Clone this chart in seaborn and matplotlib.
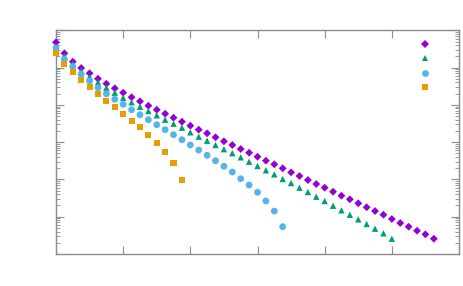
import matplotlib
matplotlib.use("Agg")
import matplotlib.pyplot as plt
from matplotlib.lines import Line2D
from matplotlib.ticker import LogLocator, MultipleLocator, NullFormatter, NullLocator
import numpy as np
import pandas as pd
import seaborn as sns

# ---- data ----
purple_vals = [0.477, 0.2415, 0.1438, 0.0975, 0.0703, 0.0503, 0.0370, 0.0278, 0.0212, 0.0160,
               0.01247, 0.0095, 0.00741, 0.00579, 0.00453, 0.00353, 0.00276, 0.00216, 0.001726, 0.001349,
               0.001054, 0.000838, 0.000655, 0.000521, 0.000407, 0.000318, 0.000255, 0.000199, 0.000155, 0.0001236,
               9.64e-5, 7.54e-5, 6.0e-5, 4.69e-5, 3.66e-5, 2.93e-5, 2.29e-5, 1.79e-5, 1.42e-5, 1.13e-5,
               8.68e-6, 6.78e-6, 5.40e-6, 4.21e-6, 3.37e-6, 2.57e-6]
green_vals = [0.356, 0.2045, 0.1248, 0.0825, 0.0569, 0.0403, 0.0289, 0.0212, 0.01556, 0.01172,
              0.00893, 0.00684, 0.00525, 0.00400, 0.00313, 0.00244, 0.001836, 0.0014, 0.001093, 0.000838,
              0.000647, 0.000505, 0.000392, 0.000299, 0.000229, 0.000176, 0.000137, 0.0001026, 8.02e-5, 6.0e-5,
              4.60e-5, 3.44e-5, 2.64e-5, 1.97e-5, 1.485e-5, 1.13e-5, 8.51e-6, 6.37e-6, 4.77e-6, 3.59e-6,
              2.57e-6]
blue_vals = [0.335, 0.1667, 0.1069, 0.0664, 0.0437, 0.0289, 0.0199, 0.01410, 0.01035, 0.00741,
             0.00545, 0.00400, 0.00294, 0.00216, 0.001585, 0.001162, 0.000838, 0.000615, 0.000444, 0.000318,
             0.000225, 0.000158, 0.0001045, 7.08e-5, 4.52e-5, 2.64e-5, 1.42e-5, 5.40e-6]
orange_vals = [0.2506, 0.1263, 0.0771, 0.0470, 0.0301, 0.01955, 0.01294, 0.00877, 0.00579, 0.00376,
               0.0025, 0.001585, 0.000966, 0.000554, 0.000281, 9.46e-5]

series = [
    (purple_vals, "#9400D3", "D", 4.0),
    (green_vals, "#009E73", "^", 4.6),
    (blue_vals, "#56B4E9", "o", 4.9),
    (orange_vals, "#E69F00", "s", 4.4),
]

sns.set_theme(style="white")
plt.rcParams['font.family'] = ['DejaVu Sans']

fig = plt.figure(figsize=(4.63, 2.86), dpi=100)
ax = fig.add_axes([56 / 463, (286 - 254) / 286, (459 - 56) / 463, (254 - 30.3) / 286])

handles = []
for vals, col, mk, ms in series:
    df = pd.DataFrame({"x": np.arange(len(vals)), "y": vals})
    sns.scatterplot(data=df, x="x", y="y", ax=ax, color=col, marker=mk,
                    s=ms ** 2, edgecolor="none", linewidth=0, legend=False,
                    clip_on=False, zorder=3)
    handles.append(Line2D([], [], linestyle="none", marker=mk, color=col,
                          markersize=ms, markeredgewidth=0))

ax.set_yscale("log")
ax.set_xlim(0, 48)
ax.set_ylim(1e-6, 1)
ax.xaxis.set_major_locator(MultipleLocator(8))
ax.xaxis.set_minor_locator(NullLocator())
ax.yaxis.set_major_locator(LogLocator(base=10, numticks=20))
ax.yaxis.set_minor_locator(LogLocator(base=10, subs=np.arange(2, 10), numticks=20))
ax.xaxis.set_major_formatter(NullFormatter())
ax.yaxis.set_major_formatter(NullFormatter())
ax.yaxis.set_minor_formatter(NullFormatter())
ax.set_xlabel("")
ax.set_ylabel("")

spine_col = "#8c8c8c"
for sp in ax.spines.values():
    sp.set_visible(True)
    sp.set_color(spine_col)
    sp.set_linewidth(1.0)
ax.tick_params(which="both", direction="in", top=True, right=True, bottom=True, left=True,
               color=spine_col, labelbottom=False, labelleft=False)
ax.tick_params(which="major", length=5.5, width=0.8)
ax.tick_params(which="minor", length=3, width=0.6)

leg = ax.legend(handles, [" "] * 4, loc="upper left", bbox_to_anchor=(0.890, 0.978),
                frameon=False, handlelength=1.0, handletextpad=0.0, labelspacing=0.41,
                borderaxespad=0.0, fontsize=8, numpoints=1)

fig.savefig("out.png", dpi=100)
